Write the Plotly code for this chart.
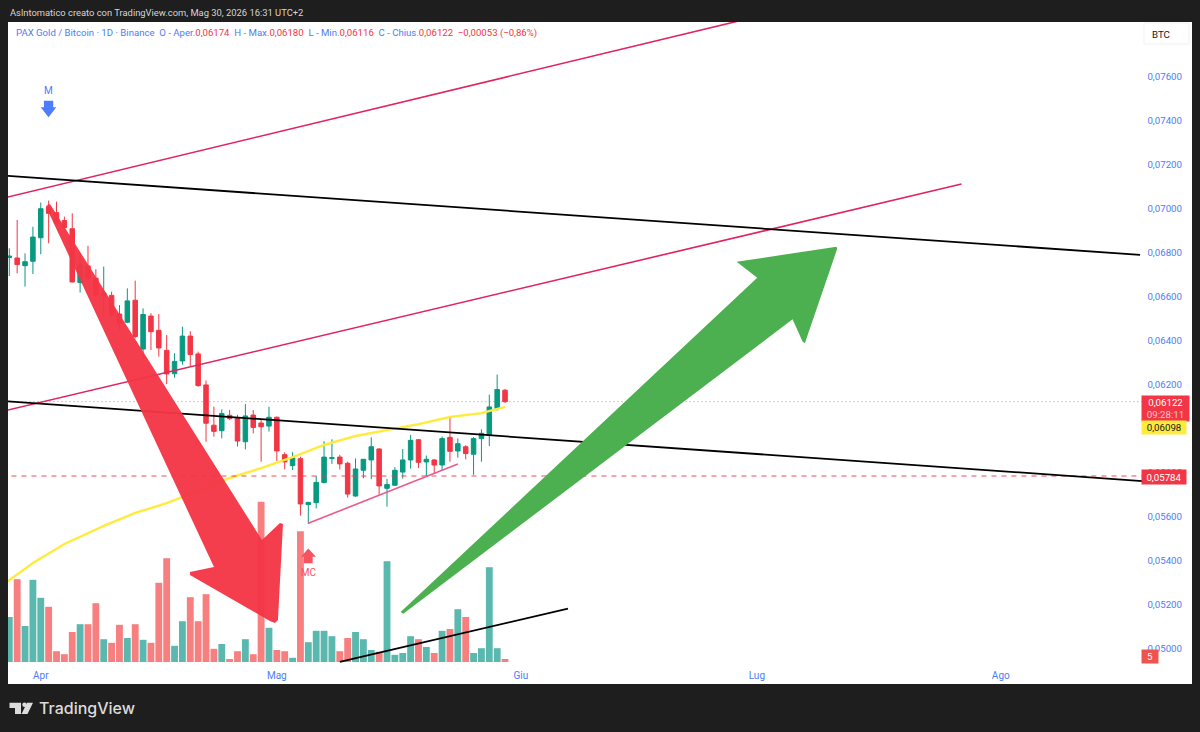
"""PAX Gold / Bitcoin daily chart with volume, trend lines and drawn arrows."""

import pandas as pd
import plotly.graph_objects as go

START = pd.Timestamp("2026-03-28")

OPEN = [.06777, .06775, .06740, .06760, .06867, .07005, .06981, .06945, .06908, .06663,
        .06739, .06683, .06602, .06605, .06520, .06483, .06583, .06361, .06511, .06446,
        .06355, .06249, .06307, .06420, .06339, .06198, .06015, .05990, .06060, .06046,
        .05940, .06061, .06025, .06011, .06051, .05881, .05831, .05863, .05654, .05663,
        .05754, .05864, .05870, .05842, .05693, .05810, .05857, .05907, .05728, .05742,
        .05802, .05857, .05949, .05848, .05857, .05834, .05960, .05898, .05917, .05883,
        .05954, .05970, .06090, .06174]
HIGH = [.06819, .06948, .06796, .06917, .07027, .07036, .07031, .06963, .06978, .06796,
        .06830, .06724, .06736, .06622, .06561, .06637, .06672, .06546, .06524, .06520,
        .06425, .06342, .06463, .06442, .06349, .06218, .06099, .06087, .06084, .06062,
        .06111, .06084, .06039, .06099, .06055, .05892, .05892, .05872, .05667, .05784,
        .05942, .05951, .05880, .05849, .05864, .05861, .05960, .05910, .05771, .05824,
        .05907, .05971, .05952, .05877, .05861, .05964, .06054, .05955, .05924, .05961,
        .05996, .06154, .06245, .06180]
LOW = [.06693, .06705, .06645, .06702, .06792, .06842, .06925, .06895, .06664, .06618,
       .06675, .06599, .06508, .06508, .06448, .06478, .06410, .06319, .06357, .06327,
       .06202, .06231, .06290, .06281, .06190, .05940, .05963, .05955, .06039, .05918,
       .05905, .05978, .05849, .05986, .05852, .05814, .05811, .05604, .05566, .05637,
       .05751, .05839, .05814, .05686, .05690, .05774, .05769, .05698, .05645, .05739,
       .05772, .05817, .05820, .05784, .05793, .05811, .05849, .05867, .05860, .05789,
       .05849, .05920, .06081, .06116]
CLOSE = [.06784, .06745, .06758, .06870, .06999, .06978, .06933, .06913, .06666, .06745,
         .06683, .06607, .06616, .06516, .06478, .06580, .06418, .06518, .06440, .06366,
         .06248, .06305, .06420, .06336, .06195, .06024, .05987, .06068, .06045, .05943,
         .06057, .06005, .06008, .06051, .05898, .05848, .05867, .05657, .05664, .05755,
         .05870, .05867, .05839, .05702, .05816, .05860, .05917, .05739, .05745, .05810,
         .05857, .05946, .05846, .05860, .05834, .05954, .05896, .05931, .05886, .05954,
         .05978, .06098, .06177, .06122]
VOLUME = [75, 138, 60, 137, 107, 92, 18, 13, 50, 63, 63, 98, 38, 32, 62, 40, 63, 37, 32, 132,
          173, 27, 68, 108, 68, 113, 22, 30, 5, 18, 38, 13, 267, 57, 20, 18, 7, 218, 33, 52,
          52, 43, 18, 40, 50, 38, 20, 17, 168, 12, 15, 43, 38, 25, 15, 52, 55, 88, 75, 15,
          23, 158, 23, 5]

MA_DAYS = [-1, 0, 3, 7, 12, 16, 20, 24, 28, 32, 36, 40, 44, 48, 52, 56, 60, 63]
MA_VALUES = [.05280, .05311, .05389, .05475, .05557, .05616, .05661, .05716, .05775, .05820,
             .05870, .05925, .05966, .05993, .06020, .06052, .06070, .06098]

# drawn lines: days since START, price
BLACK_TOP_DAYS = [-1, 143.7]
BLACK_TOP_PRICE = [.07150, .06789]
BLACK_MID_DAYS = [-1, 144]
BLACK_MID_PRICE = [.06125, .05761]
BLACK_VOL_DAYS = [42, 71]
BLACK_VOL_PRICE = [.04939, .05181]
PINK_TOP_DAYS = [-1, 93]
PINK_TOP_PRICE = [.07045, .07855]
PINK_MID_DAYS = [-1, 121]
PINK_MID_PRICE = [.06077, .07111]
PINK_SUPPORT_DAYS = [38, 57]
PINK_SUPPORT_PRICE = [.05569, .05839]

LAST_DAYS = [-1, 144]
LAST_PRICE = [.06122, .06122]
LEVEL_PRICE = [.05784, .05784]

RED_ARROW_DAYS = [4.66, 5.17, 32.11, 34.40, 34.78, 34.14, 33.76, 33.12, 22.96, 22.96, 26.01, 4.92]
RED_ARROW_PRICE = [.07011, .07020, .05493, .05570, .05566, .05130, .05116, .05125, .05334, .05348,
                   .05370, .06989]
GREEN_ARROW_DAYS = [49.73, 50.06, 99.54, 100.81, 101.1, 105.2, 105.13, 92.43, 95.05]
GREEN_ARROW_PRICE = [.05166, .05158, .06496, .06395, .06387, .06816, .06826, .06758, .06685]
M_ARROW_DAYS = [4.40, 5.58, 5.58, 5.98, 4.98, 3.99, 4.40]
M_ARROW_PRICE = [.07490, .07490, .07460, .07460, .07415, .07460, .07460]
MC_ARROW_DAYS = [37.45, 38.55, 38.55, 38.97, 37.99, 37.07, 37.45]
MC_ARROW_PRICE = [.05387, .05387, .05417, .05417, .05455, .05417, .05417]

PRICE_TICKS = [.050, .052, .054, .056, .058, .060, .062, .064, .066, .068, .070, .072, .074, .076]
MONTH_TICKS = ["2026-04-01", "2026-05-01", "2026-06-01", "2026-07-01", "2026-08-01"]
MONTH_LABELS = ["Apr", "Mag", "Giu", "Lug", "Ago"]

BG = "#1e1e1e"
BLUE = "#4d7cf5"
RED = "#f23645"
GREEN = "#089981"
FONT = "Roboto"


def to_dates(days):
    return [START + pd.Timedelta(days=d) for d in days]


def px(x):
    return x / 1200


def py(y):
    return 1 - y / 732


def tag(text, x, y, w, h, bg, color="white", size=9.7):
    return dict(
        text=text, xref="paper", yref="paper", x=px(x), y=py(y), xanchor="left", yanchor="top",
        width=w, height=h, bgcolor=bg, showarrow=False, borderpad=0,
        font=dict(family=FONT, size=size, color=color),
    )


def label(text, x, y, color, size=9.6, family=FONT, weight=400):
    return dict(
        text=text, xref="paper", yref="paper", x=px(x), y=py(y), xanchor="left", yanchor="middle",
        showarrow=False, font=dict(family=family, size=size, color=color, weight=weight),
    )


def add_line(fig, days, price, color, width, dash="solid"):
    fig.add_trace(go.Scatter(
        x=to_dates(days), y=price, mode="lines", yaxis="y2",
        line=dict(color=color, width=width, dash=dash),
    ))


def add_polygon(fig, days, price, color):
    fig.add_trace(go.Scatter(
        x=to_dates(days), y=price, mode="lines", yaxis="y2", fill="toself",
        fillcolor=color, line=dict(width=0),
    ))


dates = pd.date_range(START, periods=len(CLOSE))
vol_colors = ["#5bb8ae" if c >= o else "#f77f7f" for o, c in zip(OPEN, CLOSE)]

fig = go.Figure()
fig.add_trace(go.Bar(x=dates, y=VOLUME, marker=dict(color=vol_colors, line_width=0),
                     width=86400000 * 0.87))
fig.add_trace(go.Candlestick(
    x=dates, open=OPEN, high=HIGH, low=LOW, close=CLOSE, yaxis="y2", whiskerwidth=0,
    increasing=dict(line=dict(color=GREEN, width=1), fillcolor=GREEN),
    decreasing=dict(line=dict(color=RED, width=1), fillcolor=RED),
))

add_line(fig, MA_DAYS, MA_VALUES, "#ffeb3b", 2.4)
add_line(fig, LAST_DAYS, LAST_PRICE, "rgba(242,54,69,0.7)", 1, "1px,3px")
add_line(fig, LAST_DAYS, LEVEL_PRICE, "rgba(242,54,69,0.9)", 1, "5px,5px")
add_line(fig, PINK_TOP_DAYS, PINK_TOP_PRICE, "#e0245e", 1.6)
add_line(fig, PINK_MID_DAYS, PINK_MID_PRICE, "#e0245e", 1.6)
add_line(fig, PINK_SUPPORT_DAYS, PINK_SUPPORT_PRICE, "#ea5b8c", 1.6)
add_line(fig, BLACK_TOP_DAYS, BLACK_TOP_PRICE, "black", 1.8)
add_line(fig, BLACK_MID_DAYS, BLACK_MID_PRICE, "black", 1.8)
add_line(fig, BLACK_VOL_DAYS, BLACK_VOL_PRICE, "black", 1.8)

add_polygon(fig, RED_ARROW_DAYS, RED_ARROW_PRICE, "rgba(244,53,70,0.96)")
add_polygon(fig, GREEN_ARROW_DAYS, GREEN_ARROW_PRICE, "#4caf50")
add_polygon(fig, M_ARROW_DAYS, M_ARROW_PRICE, "#4d7cfe")
add_polygon(fig, MC_ARROW_DAYS, MC_ARROW_PRICE, "#f7525f")

fig.add_trace(go.Scatter(
    x=to_dates([4.98, 38]), y=[.07530, .05343], mode="text", yaxis="y2", text=["M", "MC"],
    textposition="middle center", textfont=dict(family=FONT, size=10, color=[BLUE, "#f7525f"]),
))

legend_text = (
    f'<span style="color:{BLUE}">PAX Gold / Bitcoin · 1D · Binance\u00a0\u00a0O - Aper.</span>0,06174'
    f'\u00a0\u00a0<span style="color:{BLUE}">H - Max.</span>0,06180'
    f'\u00a0\u00a0<span style="color:{BLUE}">L - Min.</span>0,06116'
    f'\u00a0\u00a0<span style="color:{BLUE}">C - Chius.</span>0,06122'
    "\u00a0\u00a0−0,00053 (−0,86%)"
)

fig.update_layout(
    width=1200, height=732, margin=dict(l=0, r=0, t=0, b=0),
    paper_bgcolor=BG, plot_bgcolor="white", showlegend=False, separators=",.", boxgap=0.18,
    xaxis=dict(
        type="date", domain=[px(8), px(1192)],
        range=["2026-03-27 20:02", "2026-08-25 07:12"],
        tickvals=MONTH_TICKS, ticktext=MONTH_LABELS, ticklabelposition="inside", ticks="",
        showgrid=False, zeroline=False, showline=False, rangeslider=dict(visible=False),
        tickfont=dict(family=FONT, size=10, color=BLUE),
    ),
    yaxis=dict(domain=[py(684), py(22)], range=[-36.67, 1066.67], visible=False),
    yaxis2=dict(
        overlaying="y", side="right", anchor="x", range=[.048386, .078477],
        tickvals=PRICE_TICKS, tickformat=".5f", ticklabelposition="inside", ticks="",
        ticklabelstandoff=7, showgrid=False, zeroline=False, showline=False,
        tickfont=dict(family=FONT, size=9.7, color=BLUE),
    ),
    annotations=[
        label("Aslntomatico creato con TradingView.com, Mag 30, 2026 16:31 UTC+2", 8, 12, "#d6d6d6", 9.4),
        label(legend_text, 14, 33, RED),
        label("BTC", 1150, 34, "#131722", 9.7),
        tag('0,06122<br><span style="color:#fbc4c9">09:28:11</span>', 1141, 395, 47, 25, RED),
        tag("0,06098", 1141, 420, 44, 13, "#ffeb3b", "#131722"),
        tag("0,05784", 1141, 469, 44, 14, RED),
        tag("5", 1141, 649, 16, 13, "#ef5350"),
        label("TradingView", 37, 708, "#dcdcdc", 16, "Inter", 500),
    ],
    shapes=[
        dict(type="rect", xref="paper", yref="paper", line=dict(color="#f1f1f1", width=1),
             fillcolor="white", x0=px(1144), x1=px(1189), y0=py(44), y1=py(23)),
        dict(type="path", xref="paper", yref="paper", line_width=0, fillcolor="#dcdcdc",
             path=f"M{px(9.5)},{py(702.7)}L{px(21)},{py(702.7)}L{px(21)},{py(714)}L{px(15)},{py(714)}"
                  f"L{px(15)},{py(708)}L{px(9.5)},{py(708)}Z"),
        dict(type="path", xref="paper", yref="paper", line_width=0, fillcolor="#dcdcdc",
             path=f"M{px(33)},{py(702.7)}L{px(27.5)},{py(714)}L{px(21.5)},{py(714)}L{px(27)},{py(702.7)}Z"),
        dict(type="circle", xref="paper", yref="paper", line_width=0, fillcolor="#dcdcdc",
             x0=px(22.3), x1=px(26.7), y0=py(707), y1=py(702.6)),
    ],
)

# the page default adds a margin round the figure
fig.write_html(
    "out.html",
    config={"displayModeBar": False},
    post_script="document.body.style.margin='0';document.body.style.overflow='hidden';",
)
